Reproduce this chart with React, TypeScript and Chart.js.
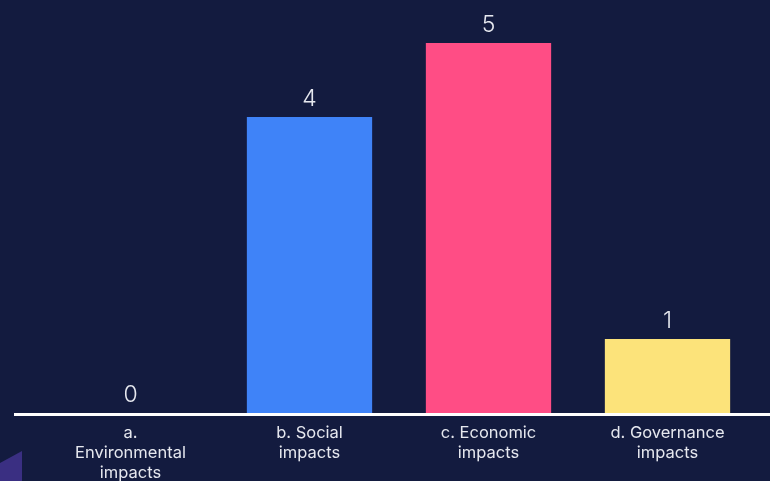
import React, { useEffect, useRef } from "react";
import { Chart, registerables } from "chart.js";

Chart.register(...registerables);

const categories: string[][] = [
  ["a.", "Environmental", "impacts"],
  ["b. Social", "impacts"],
  ["c. Economic", "impacts"],
  ["d. Governance", "impacts"],
];
const values: number[] = [0, 4, 5, 1];
const barColors: string[] = ["#3f83f8", "#3f83f8", "#ff4d85", "#fce37a"];

const BG = "#131b3f";
const FONT = "Inter, 'Noto Sans', sans-serif";

const bgPlugin = {
  id: "bgPlugin",
  beforeDraw(chart: any) {
    const { ctx, width, height } = chart;
    ctx.save();
    ctx.fillStyle = BG;
    ctx.fillRect(0, 0, width, height);
    // decorative corner shape
    ctx.fillStyle = "#3a2f82";
    ctx.beginPath();
    ctx.moveTo(0, 463);
    ctx.lineTo(22, 451);
    ctx.lineTo(22, height);
    ctx.lineTo(0, height);
    ctx.closePath();
    ctx.fill();
    ctx.restore();
  },
  afterDatasetsDraw(chart: any) {
    const { ctx, chartArea, width } = chart;
    ctx.save();
    ctx.strokeStyle = "#ffffff";
    ctx.lineWidth = 3;
    ctx.beginPath();
    ctx.moveTo(14, chartArea.bottom + 1.5);
    ctx.lineTo(width, chartArea.bottom + 1.5);
    ctx.stroke();
    const meta = chart.getDatasetMeta(0);
    ctx.fillStyle = "#e6e8ef";
    ctx.font = `300 23px ${FONT}`;
    ctx.textAlign = "center";
    ctx.textBaseline = "bottom";
    meta.data.forEach((bar: any, i: number) => {
      ctx.fillText(String(values[i]), bar.x, bar.y - 6);
    });
    ctx.restore();
  },
};

export default function App() {
  const ref = useRef<HTMLCanvasElement>(null);
  useEffect(() => {
    document.body.style.margin = "0";
    document.body.style.background = BG;
    const chart = new Chart(ref.current!, {
      type: "bar",
      data: {
        labels: categories as any,
        datasets: [
          {
            data: values,
            backgroundColor: barColors,
            categoryPercentage: 1,
            barPercentage: 0.7,
          },
        ],
      },
      options: {
        animation: false,
        responsive: false,
        maintainAspectRatio: false,
        layout: { padding: { left: 41, right: 13, top: 0, bottom: 0 } },
        plugins: { legend: { display: false }, tooltip: { enabled: false } },
        scales: {
          y: { display: false, min: 0, max: 5.58 },
          x: {
            grid: { display: false, drawTicks: false },
            border: { display: false },
            ticks: {
              color: "#e6e8ef",
              font: { family: FONT, size: 16.5, lineHeight: "20px" as any },
              padding: 10,
              maxRotation: 0,
              autoSkip: false,
            },
            afterFit: (scale: any) => {
              scale.height = 68;
            },
          },
        },
      },
      plugins: [bgPlugin],
    });
    return () => chart.destroy();
  }, []);
  return (
    <div style={{ position: "fixed", left: 0, top: 0, width: 770, height: 481 }}>
      <canvas ref={ref} width={770} height={481} style={{ width: 770, height: 481 }} />
    </div>
  );
}
